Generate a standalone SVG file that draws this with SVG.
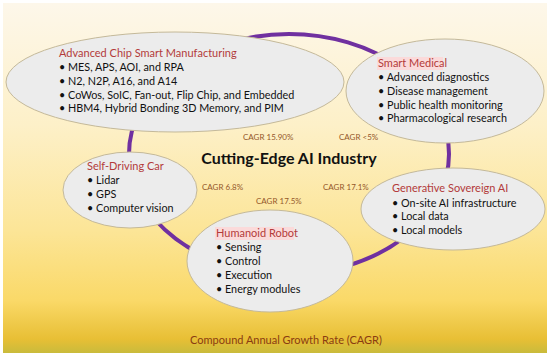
<svg xmlns="http://www.w3.org/2000/svg" width="550" height="358" viewBox="0 0 550 358">
<defs>
<linearGradient id="bg" x1="0" y1="0" x2="0" y2="1">
<stop offset="0" stop-color="#fdf7ea"/>
<stop offset="0.35" stop-color="#fdf0c8"/>
<stop offset="0.65" stop-color="#fce597"/>
<stop offset="0.85" stop-color="#fad968"/>
<stop offset="0.96" stop-color="#e8bf35"/>
<stop offset="1" stop-color="#c9bb3c"/>
</linearGradient>
<style>
.node{fill:#ececec;stroke:#c4b99a;stroke-width:1}
.t{font-family:Lato,"Liberation Sans",sans-serif;font-size:11px;fill:#b33b3b}
.b{font-family:Lato,"Liberation Sans",sans-serif;font-size:10.8px;fill:#111}
.hl{fill:#fbdada}
.cagr{font-family:Lato,"Liberation Sans",sans-serif;font-size:8px;fill:#94582a}
.ring{fill:none;stroke:#7030a0;stroke-width:4}
</style>
</defs>
<rect x="3" y="3" width="544" height="350" fill="url(#bg)"/>
<g id="connectors">
<ellipse class="ring" cx="289" cy="154" rx="160" ry="120"/>
</g>
<g id="manufacturing">
<ellipse class="node" cx="175" cy="82" rx="169" ry="50"/>
<text class="t" x="59" y="57">Advanced Chip Smart Manufacturing</text>
<text class="b" x="59" y="71">• MES, APS, AOI, and RPA</text>
<text class="b" x="59" y="85">• N2, N2P, A16, and A14</text>
<text class="b" x="59" y="99">• CoWos, SoIC, Fan-out, Flip Chip, and Embedded</text>
<text class="b" x="59" y="112">• HBM4, Hybrid Bonding 3D Memory, and PIM</text>
</g>
<g id="medical">
<ellipse class="node" cx="445" cy="91" rx="99" ry="52"/>
<rect class="hl" x="377" y="57" width="66" height="13"/>
<text class="t" x="378" y="67">Smart Medical</text>
<text class="b" x="378" y="81">• Advanced diagnostics</text>
<text class="b" x="378" y="95">• Disease management</text>
<text class="b" x="378" y="109">• Public health monitoring</text>
<text class="b" x="378" y="122">• Pharmacological research</text>
</g>
<g id="selfdriving">
<ellipse class="node" cx="130" cy="190" rx="67" ry="38"/>
<text class="t" x="87" y="170">Self-Driving Car</text>
<text class="b" x="87" y="184">• Lidar</text>
<text class="b" x="87" y="198">• GPS</text>
<text class="b" x="87" y="212">• Computer vision</text>
</g>
<g id="humanoid">
<ellipse class="node" cx="270" cy="261" rx="83" ry="51"/>
<rect class="hl" x="215" y="227" width="79" height="13"/>
<text class="t" x="216" y="237">Humanoid Robot</text>
<text class="b" x="216" y="251">• Sensing</text>
<text class="b" x="216" y="265">• Control</text>
<text class="b" x="216" y="279">• Execution</text>
<text class="b" x="216" y="293">• Energy modules</text>
</g>
<g id="generative">
<ellipse class="node" cx="453" cy="209" rx="92" ry="41"/>
<text class="t" x="392" y="192">Generative Sovereign AI</text>
<text class="b" x="392" y="207">• On-site AI infrastructure</text>
<text class="b" x="392" y="220">• Local data</text>
<text class="b" x="392" y="234">• Local models</text>
</g>
<g id="center">
<text x="289" y="164" text-anchor="middle" font-family="Lato,'Liberation Sans',sans-serif" font-size="16" font-weight="bold" fill="#111">Cutting-Edge AI Industry</text>
<text class="cagr" x="243" y="140">CAGR 15.90%</text>
<text class="cagr" x="339" y="140">CAGR &lt;5%</text>
<text class="cagr" x="202" y="190">CAGR 6.8%</text>
<text class="cagr" x="323" y="190">CAGR 17.1%</text>
<text class="cagr" x="256" y="204">CAGR 17.5%</text>
</g>
<text x="286" y="344" text-anchor="middle" font-family="Lato,'Liberation Sans',sans-serif" font-size="11" fill="#8a3c12">Compound Annual Growth Rate (CAGR)</text>
</svg>
